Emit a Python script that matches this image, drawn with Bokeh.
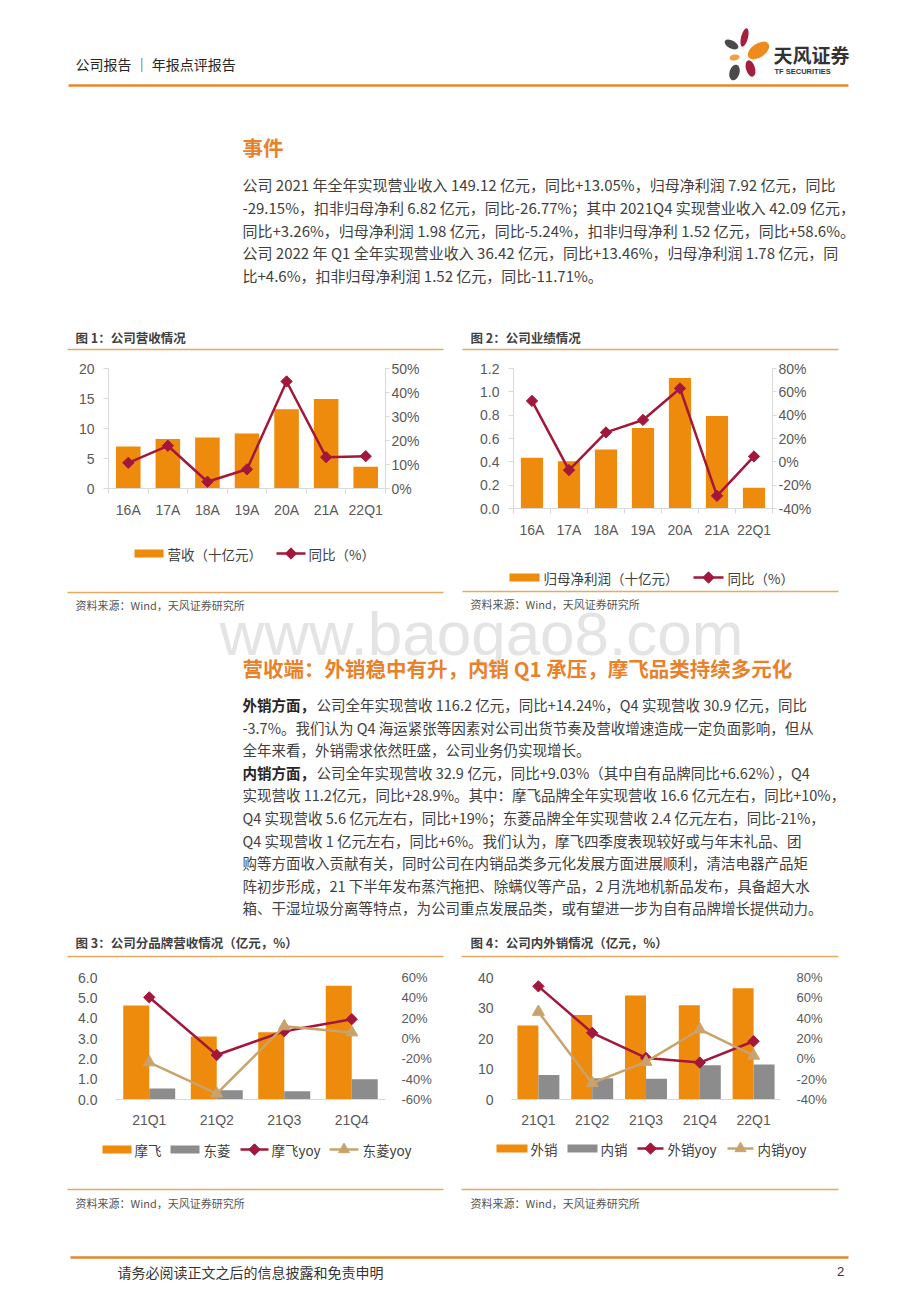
import math
from bokeh.plotting import figure
from bokeh.models import Range1d, LinearAxis, FixedTicker, PrintfTickFormatter
from bokeh.layouts import column, row
from bokeh.embed import file_html
from bokeh.resources import INLINE
from bokeh.core.properties import value

CJK = "Noto Sans CJK SC"
LAT = "Liberation Sans"
TXT = "#3F3F3F"
HEAD_OR = "#E9812A"
RULE = "#E4882C"
THIN_RULE = "#E8A862"
BAR_O = "#EE8A0C"
BAR_G = "#8C8C8C"
RED = "#A3173B"
TAN = "#C9A36B"
TICK = "#595959"
AXL = "#D9D9D9"

# ---------------- data ----------------
c1_cats = ["16A", "17A", "18A", "19A", "20A", "21A", "22Q1"]
c1_revenue = [7.0, 8.26, 8.48, 9.15, 13.19, 14.91, 3.64]
c1_yoy = [10.7, 17.8, 2.8, 8.0, 44.6, 13.05, 13.46]

c2_cats = ["16A", "17A", "18A", "19A", "20A", "21A", "22Q1"]
c2_profit = [0.436, 0.405, 0.506, 0.689, 1.119, 0.792, 0.178]
c2_yoy = [52.2, -7.1, 25.2, 35.9, 62.9, -29.15, 4.6]

c3_cats = ["21Q1", "21Q2", "21Q3", "21Q4"]
c3_mofei = [4.62, 3.10, 3.31, 5.6]
c3_dongling = [0.54, 0.46, 0.40, 1.0]
c3_mofei_yoy = [40.5, -16.2, 7.2, 19.0]
c3_dongling_yoy = [-23.5, -54.2, 12.0, 6.0]

c4_cats = ["21Q1", "21Q2", "21Q3", "21Q4", "22Q1"]
c4_export = [24.3, 27.7, 34.1, 30.9, 36.5]
c4_domestic = [8.0, 7.0, 6.8, 11.2, 11.5]
c4_export_yoy = [71.3, 25.6, 0.9, -3.7, 17.3]
c4_domestic_yoy = [46.2, -23.9, -3.0, 28.9, 3.1]

c1_left_ticks = [0, 5, 10, 15, 20]
c1_right_ticks = [0, 10, 20, 30, 40, 50]
c2_left_ticks = [0.0, 0.2, 0.4, 0.6, 0.8, 1.0, 1.2]
c2_right_ticks = [-40, -20, 0, 20, 40, 60, 80]
c3_left_ticks = [0.0, 1.0, 2.0, 3.0, 4.0, 5.0, 6.0]
c3_right_ticks = [-60, -40, -20, 0, 20, 40, 60]
c4_left_ticks = [0, 10, 20, 30, 40]
c4_right_ticks = [-40, -20, 0, 20, 40, 60, 80]

header_text = "公司报告 ｜ 年报点评报告"
event_title = "事件"
event_lines = [
    "公司 2021 年全年实现营业收入 149.12 亿元，同比+13.05%，归母净利润 7.92 亿元，同比",
    "-29.15%，扣非归母净利 6.82 亿元，同比-26.77%；其中 2021Q4 实现营业收入 42.09 亿元，",
    "同比+3.26%，归母净利润 1.98 亿元，同比-5.24%，扣非归母净利 1.52 亿元，同比+58.6%。",
    "公司 2022 年 Q1 全年实现营业收入 36.42 亿元，同比+13.46%，归母净利润 1.78 亿元，同",
    "比+4.6%，扣非归母净利润 1.52 亿元，同比-11.71%。",
]
sec2_title = "营收端：外销稳中有升，内销 Q1 承压，摩飞品类持续多元化"
sec2_lines = [
    ("外销方面，", "公司全年实现营收 116.2 亿元，同比+14.24%，Q4 实现营收 30.9 亿元，同比"),
    ("", "-3.7%。我们认为 Q4 海运紧张等因素对公司出货节奏及营收增速造成一定负面影响，但从"),
    ("", "全年来看，外销需求依然旺盛，公司业务仍实现增长。"),
    ("内销方面，", "公司全年实现营收 32.9 亿元，同比+9.03%（其中自有品牌同比+6.62%），Q4"),
    ("", "实现营收 11.2亿元，同比+28.9%。其中：摩飞品牌全年实现营收 16.6 亿元左右，同比+10%，"),
    ("", "Q4 实现营收 5.6 亿元左右，同比+19%；东菱品牌全年实现营收 2.4 亿元左右，同比-21%，"),
    ("", "Q4 实现营收 1 亿元左右，同比+6%。我们认为，摩飞四季度表现较好或与年末礼品、团"),
    ("", "购等方面收入贡献有关，同时公司在内销品类多元化发展方面进展顺利，清洁电器产品矩"),
    ("", "阵初步形成，21 下半年发布蒸汽拖把、除螨仪等产品，2 月洗地机新品发布，具备超大水"),
    ("", "箱、干湿垃圾分离等特点，为公司重点发展品类，或有望进一步为自有品牌增长提供动力。"),
]
source_text = "资料来源：Wind，天风证券研究所"
footer_text = "请务必阅读正文之后的信息披露和免责申明"
page_no = "2"
watermark = "www.baogao8.com"


# ---------------- helpers ----------------
def page_fig(x0, y0, w, h):
    p = figure(width=w, height=h, x_range=Range1d(x0, x0 + w), y_range=Range1d(y0 + h, y0),
               x_axis_type=None, y_axis_type=None, toolbar_location=None,
               output_backend="svg", min_border=0, outline_line_color=None)
    p.background_fill_color = "white"
    p.border_fill_color = "white"
    return p


def txt(p, x, y, s, size, color=TXT, font=CJK, style="normal", align="left"):
    p.text(x=[x], y=[y], text=[s], text_font=value(font), text_font_size=size,
           text_color=color, text_font_style=style, text_align=align,
           text_baseline="middle")


def hrule(p, x0, x1, y, color, width):
    p.segment(x0=[x0], y0=[y], x1=[x1], y1=[y], line_color=color, line_width=width)


def make_chart(w, h, cats, bars, lines, ylim, yticks, yfmt, rlim, rticks,
               bl, br, bt, bb, bar_w, framed, rsize):
    n = len(cats)
    xs = list(range(1, n + 1))
    p = figure(width=w, height=h, x_range=Range1d(0.5, n + 0.5), y_range=Range1d(*ylim),
               toolbar_location=None, output_backend="svg",
               min_border_left=bl, min_border_right=br, min_border_top=bt,
               min_border_bottom=bb, outline_line_color=None)
    p.grid.visible = False
    p.extra_y_ranges = {"pct": Range1d(*rlim)}
    nb = len(bars)
    for i, (label, vals, color) in enumerate(bars):
        off = (i - (nb - 1) / 2) * bar_w
        p.vbar(x=[x + off for x in xs], top=vals, width=bar_w, fill_color=color,
               line_color=None)
    for label, vals, color, marker, msize, ang in lines:
        p.line(xs, vals, y_range_name="pct", line_color=color, line_width=2.5)
        p.scatter(xs, vals, y_range_name="pct", marker=marker, size=msize,
                  angle=ang, fill_color=color, line_color=color)

    xa = p.xaxis[0]
    xa.ticker = FixedTicker(ticks=xs, minor_ticks=[i + 0.5 for i in range(0, n + 1)])
    xa.major_label_overrides = {x: c for x, c in zip(xs, cats)}
    xa.axis_line_color = AXL
    xa.major_tick_line_color = None
    xa.major_tick_out = 0
    xa.major_tick_in = 0
    if framed:
        xa.minor_tick_line_color = AXL
        xa.minor_tick_out = 5
        xa.minor_tick_in = 0
    else:
        xa.minor_tick_line_color = None
    xa.major_label_text_font = LAT
    xa.major_label_text_font_size = "14px"
    xa.major_label_text_color = TICK
    xa.major_label_standoff = 8

    ya = p.yaxis[0]
    ya.ticker = FixedTicker(ticks=yticks)
    ya.formatter = PrintfTickFormatter(format=yfmt)
    ya.minor_tick_line_color = None
    ya.major_label_text_font = LAT
    ya.major_label_text_font_size = "14px"
    ya.major_label_text_color = TICK
    if framed:
        ya.axis_line_color = AXL
        ya.major_tick_line_color = AXL
        ya.major_tick_out = 5
        ya.major_tick_in = 0
        ya.major_label_standoff = 9
    else:
        ya.axis_line_color = None
        ya.major_tick_line_color = None
        ya.major_label_standoff = 12

    ra = LinearAxis(y_range_name="pct", ticker=FixedTicker(ticks=rticks),
                    formatter=PrintfTickFormatter(format="%d%%"))
    ra.minor_tick_line_color = None
    ra.major_label_text_font = LAT
    ra.major_label_text_font_size = rsize
    ra.major_label_text_color = TICK
    if framed:
        ra.axis_line_color = AXL
        ra.major_tick_line_color = AXL
        ra.major_tick_out = 4
        ra.major_tick_in = 0
        ra.major_label_standoff = 2
    else:
        ra.axis_line_color = None
        ra.major_tick_line_color = None
        ra.major_label_standoff = 10
    p.add_layout(ra, "right")
    return p


def legend_fig(x0, y0, w, h, ly, entries):
    """entries: (kind, color, swatch_x0, swatch_x1, label, label_x)"""
    f = page_fig(x0, y0, w, h)
    for kind, color, sx0, sx1, label, lx in entries:
        if kind == "bar":
            f.rect(x=[(sx0 + sx1) / 2], y=[ly], width=[sx1 - sx0], height=[8],
                   fill_color=color, line_color=None)
        else:
            f.segment(x0=[sx0], y0=[ly], x1=[sx1], y1=[ly], line_color=color, line_width=2.5)
            if kind == "diamond":
                f.scatter(x=[(sx0 + sx1) / 2], y=[ly], marker="square", size=8,
                          angle=math.pi / 4, fill_color=color, line_color=color)
            else:
                f.scatter(x=[(sx0 + sx1) / 2], y=[ly], marker="triangle", size=11,
                          fill_color=color, line_color=color)
        txt(f, lx, ly, label, "13.5px", color="#404040")
    return f


def title_fig(x0, y0, w, h, title, tx, lx0, lx1, line_dy):
    t = page_fig(x0, y0, w, h)
    txt(t, tx, y0 + 17, title, "12.5px", color="#404040", style="bold")
    hrule(t, lx0, lx1, y0 + line_dy, THIN_RULE, 1.3)
    return t


def source_block(f, tx, lx0, lx1, line_y, text_y):
    hrule(f, lx0, lx1, line_y, THIN_RULE, 1.3)
    txt(f, tx, text_y, source_text, "11px", color="#555555")


def stack(*figs):
    # wrap every figure in its own box so that the frames are not aligned
    return column(*[column(f) for f in figs])


# ---------------- header (page y 0..320) ----------------
header = page_fig(0, 0, 912, 320)
txt(header, 75, 63, header_text, "14px", color="#262626")
hrule(header, 68, 848, 85, RULE, 2.5)
header.ellipse(x=[744], y=[37], width=[7], height=[19], angle=[-0.25],
               fill_color="#A31F3D", line_color=None)
header.ellipse(x=[731], y=[44], width=[15], height=[8], angle=[-0.5],
               fill_color="#4A4A4A", line_color=None)
header.ellipse(x=[758], y=[50], width=[24], height=[14], angle=[0.6],
               fill_color="#EE8B1E", line_color=None)
header.ellipse(x=[734], y=[57], width=[10], height=[6], angle=[0.2],
               fill_color="#F0A040", line_color=None)
header.ellipse(x=[750], y=[68], width=[9], height=[17], angle=[0.3],
               fill_color="#A31F3D", line_color=None)
header.ellipse(x=[734], y=[72], width=[10], height=[16], angle=[-0.3],
               fill_color="#4A4A4A", line_color=None)
txt(header, 773, 54, "天风证券", "19px", color="#333333", style="bold")
txt(header, 774, 71, "TF SECURITIES", "7.5px", color="#333333", font=LAT, style="bold")

txt(header, 242, 146, event_title, "20.5px", color=HEAD_OR, style="bold")
for i, line in enumerate(event_lines):
    txt(header, 242, 184 + i * 22.75, line, "15px")

# ---------------- charts row 1 (page y 320..588) ----------------
ch1 = make_chart(460, 164, c1_cats, [("营收（十亿元）", c1_revenue, BAR_O)],
                 [("同比（%）", c1_yoy, RED, "square", 8, math.pi / 4)],
                 (0, 20), c1_left_ticks, "%d", (0, 50), c1_right_ticks,
                 108, 75, 12, 31, 0.62, True, "14px")
lg1 = legend_fig(0, 520, 460, 68, 553, [
    ("bar", BAR_O, 134, 163, "营收（十亿元）", 167),
    ("diamond", RED, 276, 305, "同比（%）", 308)])
p1 = stack(title_fig(0, 320, 460, 36, "图 1：公司营收情况", 75, 67, 443, 29), ch1, lg1)

ch2 = make_chart(452, 184, c2_cats, [("归母净利润（十亿元）", c2_profit, BAR_O)],
                 [("同比（%）", c2_yoy, RED, "square", 8, math.pi / 4)],
                 (0, 1.2), c2_left_ticks, "%.1f", (-40, 80), c2_right_ticks,
                 53, 140, 12, 29, 0.6, True, "14px")
lg2 = legend_fig(460, 540, 452, 48, 577, [
    ("bar", BAR_O, 509, 539, "归母净利润（十亿元）", 543),
    ("diamond", RED, 693, 723, "同比（%）", 727)])
p2 = stack(title_fig(460, 320, 452, 36, "图 2：公司业绩情况", 470, 462, 838, 29), ch2, lg2)

# ---------------- middle text (page y 588..925) ----------------
mid = page_fig(0, 588, 912, 337)
source_block(mid, 75, 67, 443, 592, 604)
source_block(mid, 470, 462, 838, 591, 603)
txt(mid, 481, 633, watermark, "62px", color="#E4E4E4", font=LAT, align="center")
txt(mid, 242, 667, sec2_title, "20.5px", color=HEAD_OR, style="bold")
for i, (bold, rest) in enumerate(sec2_lines):
    y = 704 + i * 22.6
    if bold:
        txt(mid, 242, y, bold, "14.5px", color="#262626", style="bold")
        txt(mid, 316, y, rest, "14.5px")
    else:
        txt(mid, 242, y, rest, "14.5px")

# ---------------- charts row 2 (page y 925..1183) ----------------
ch3 = make_chart(460, 168, c3_cats,
                 [("摩飞", c3_mofei, BAR_O), ("东菱", c3_dongling, BAR_G)],
                 [("摩飞yoy", c3_mofei_yoy, RED, "square", 8, math.pi / 4),
                  ("东菱yoy", c3_dongling_yoy, TAN, "triangle", 12, 0)],
                 (0, 6), c3_left_ticks, "%.1f", (-60, 60), c3_right_ticks,
                 115, 75, 15, 28, 0.385, False, "13px")
lg3 = legend_fig(0, 1130, 460, 53, 1149, [
    ("bar", BAR_O, 102, 131, "摩飞", 134),
    ("bar", BAR_G, 170, 199, "东菱", 203),
    ("diamond", RED, 240, 268, "摩飞yoy", 271),
    ("triangle", TAN, 329, 358, "东菱yoy", 362)])
p3 = stack(title_fig(0, 925, 460, 37, "图 3：公司分品牌营收情况（亿元，%）", 75, 67, 443, 31), ch3, lg3)

ch4 = make_chart(452, 168, c4_cats,
                 [("外销", c4_export, BAR_O), ("内销", c4_domestic, BAR_G)],
                 [("外销yoy", c4_export_yoy, RED, "square", 8, math.pi / 4),
                  ("内销yoy", c4_domestic_yoy, TAN, "triangle", 12, 0)],
                 (0, 40), c4_left_ticks, "%d", (-40, 80), c4_right_ticks,
                 51, 132, 15, 28, 0.39, False, "13px")
lg4 = legend_fig(460, 1130, 452, 53, 1148, [
    ("bar", BAR_O, 496, 527, "外销", 530),
    ("bar", BAR_G, 567, 597, "内销", 600),
    ("diamond", RED, 637, 663, "外销yoy", 667),
    ("triangle", TAN, 727, 753, "内销yoy", 757)])
p4 = stack(title_fig(460, 925, 452, 37, "图 4：公司内外销情况（亿元，%）", 470, 461, 838, 31), ch4, lg4)

# ---------------- footer (page y 1183..1294) ----------------
foot = page_fig(0, 1183, 912, 111)
source_block(foot, 75, 67, 443, 1189, 1202)
source_block(foot, 470, 461, 838, 1189, 1202)
hrule(foot, 70, 848, 1257, RULE, 2.5)
txt(foot, 117, 1271, footer_text, "14px", color="#333333")
txt(foot, 840, 1271, page_no, "13px", color="#333333", font=LAT, align="center")

layout = column(header, row(p1, p2), mid, row(p3, p4), foot)

open("out.html", "w").write(file_html(layout, INLINE))
